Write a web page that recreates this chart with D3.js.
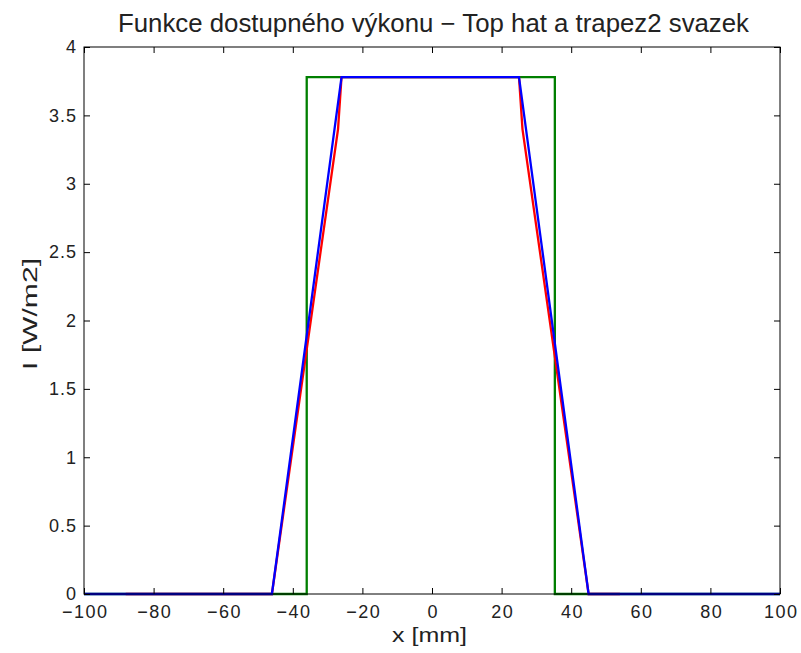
<!DOCTYPE html>
<html><head><meta charset="utf-8">
<script src="https://cdn.jsdelivr.net/npm/d3@7"></script>
<style>body{margin:0;background:#fff}text{font-family:"Liberation Sans",Arial,sans-serif;fill:#222}</style>
</head><body>
<svg id="c" width="801" height="653"></svg>
<script>
const title = "Funkce dostupného výkonu − Top hat a trapez2 svazek";
const xLabel = "x [mm]";
const yLabel = "I [W/m2]";
const xTicks = [-100,-80,-60,-40,-20,0,20,40,60,80,100];
const yTicks = [0,0.5,1,1.5,2,2.5,3,3.5,4];
// Top hat (green)
const topHatX = [-100,-36,-36,35.3,35.3,100];
const topHatY = [0,0,3.78,3.78,0,0];
// Trapez measured (red)
const redX = [-88,-46,-27,-26,25,26,45,54];
const redY = [0,0,3.4,3.78,3.78,3.4,0,0];
// Trapez2 (blue)
const blueX = [-100,-46,-26,25,45,100];
const blueY = [0,0,3.78,3.78,0,0];

const L=84,R=780,T=47,B=594;
const svg=d3.select("#c");
const x=d3.scaleLinear().domain([-100,100]).range([L,R]);
const y=d3.scaleLinear().domain([0,4]).range([B,T]);
const tf = v => (v<0?"−":"")+Math.abs(v);

const g=svg.append("g");
const line=d3.line().x(d=>x(d[0])).y(d=>y(d[1]));
function draw(xs,ys,col){
  g.append("path").datum(xs.map((v,i)=>[v,ys[i]])).attr("d",line)
   .attr("fill","none").attr("stroke",col).attr("stroke-width",2.3);
}
draw(topHatX,topHatY,"#007f00");
draw(redX,redY,"#ff0000");
draw(blueX,blueY,"#0000ff");

// axes box
svg.append("rect").attr("x",L).attr("y",T).attr("width",R-L).attr("height",B-T)
  .attr("fill","none").attr("stroke","#000").attr("stroke-width",1);
const tl=6;
svg.append("g").attr("transform",`translate(0,${B})`)
  .call(d3.axisBottom(x).tickValues(xTicks).tickSize(-tl).tickFormat(tf))
  .call(s=>{s.select(".domain").remove();s.selectAll("text").attr("dy",0).attr("y",24)
     .attr("dx",0.75).style("font-size","18px").style("letter-spacing","1.5px");});
svg.append("g").attr("transform",`translate(0,${T})`)
  .call(d3.axisTop(x).tickValues(xTicks).tickSize(-tl).tickFormat(""))
  .call(s=>s.select(".domain").remove());
svg.append("g").attr("transform",`translate(${L},0)`)
  .call(d3.axisLeft(y).tickValues(yTicks).tickSize(-tl).tickFormat(d=>d))
  .call(s=>{s.select(".domain").remove();s.selectAll("text").attr("x",-7)
     .style("font-size","18px").style("letter-spacing","1px");});
svg.append("g").attr("transform",`translate(${R},0)`)
  .call(d3.axisRight(y).tickValues(yTicks).tickSize(-tl).tickFormat(""))
  .call(s=>s.select(".domain").remove());
svg.selectAll(".tick line").attr("stroke","#000");
svg.selectAll(".tick text").style("fill","#222").style("font-family","'Liberation Sans',Arial,sans-serif");

svg.append("text").attr("x",433.5).attr("y",32).attr("text-anchor","middle")
  .attr("textLength",631).attr("lengthAdjust","spacingAndGlyphs")
  .style("font-size","25px").text(title);
svg.append("text").attr("x",429.5).attr("y",642).attr("text-anchor","middle")
  .attr("textLength",75).attr("lengthAdjust","spacingAndGlyphs")
  .style("font-size","20px").text(xLabel);
svg.append("text").attr("transform",`translate(37,314) rotate(-90)`).attr("text-anchor","middle")
  .attr("textLength",112).attr("lengthAdjust","spacingAndGlyphs")
  .style("font-size","20px").text(yLabel);
</script>
</body></html>
